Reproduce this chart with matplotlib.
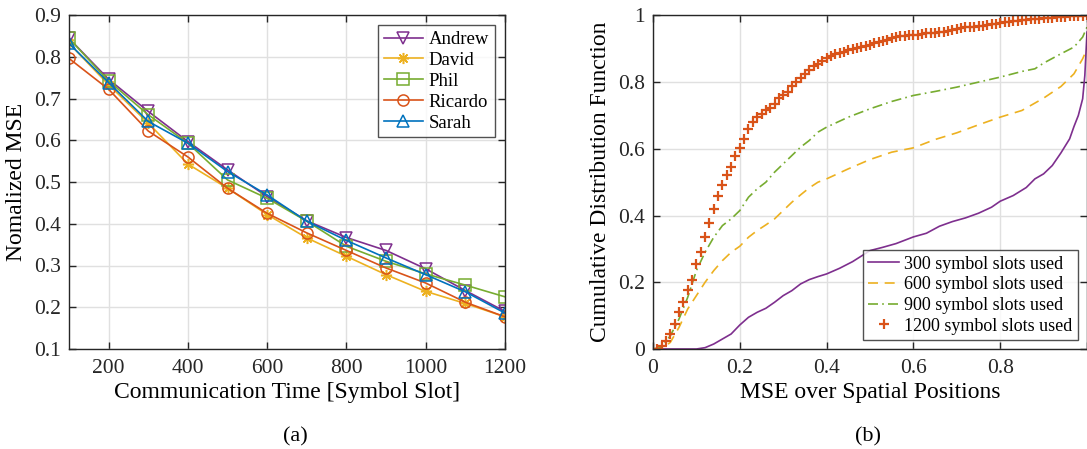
import numpy as np
import matplotlib
matplotlib.use("Agg")
import matplotlib.pyplot as plt

plt.rcParams['font.family'] = ['Liberation Serif', 'DejaVu Serif']
plt.rcParams['mathtext.fontset'] = 'stix'

# ---- panel (a) data ----
slots = [100, 200, 300, 400, 500, 600, 700, 800, 900, 1000, 1100, 1200]
andrew = [0.844, 0.746, 0.669, 0.597, 0.529, 0.465, 0.407, 0.367, 0.336, 0.292, 0.240, 0.190]
david = [0.832, 0.733, 0.641, 0.543, 0.485, 0.422, 0.366, 0.322, 0.278, 0.238, 0.209, 0.177]
phil = [0.844, 0.742, 0.661, 0.593, 0.505, 0.461, 0.406, 0.346, 0.310, 0.280, 0.253, 0.225]
ricardo = [0.796, 0.722, 0.622, 0.560, 0.485, 0.425, 0.378, 0.336, 0.294, 0.258, 0.212, 0.177]
sarah = [0.832, 0.738, 0.645, 0.593, 0.525, 0.469, 0.406, 0.360, 0.318, 0.278, 0.237, 0.186]
names = ["Andrew", "David", "Phil", "Ricardo", "Sarah"]

# ---- panel (b) data ----
x300 = [0, 0.05, 0.10, 0.12, 0.14, 0.16, 0.18, 0.20, 0.22, 0.24, 0.26, 0.28, 0.30, 0.32, 0.34,
        0.36, 0.38, 0.40, 0.43, 0.46, 0.50, 0.53, 0.56, 0.60, 0.63, 0.66, 0.69, 0.72, 0.75,
        0.78, 0.80, 0.83, 0.86, 0.88, 0.90, 0.92, 0.94, 0.96, 0.97, 0.98, 0.99, 0.995, 1.0]
cdf300 = [0, 0, 0, 0.004, 0.015, 0.03, 0.045, 0.072, 0.095, 0.11, 0.122, 0.14, 0.16, 0.175, 0.195,
          0.208, 0.217, 0.225, 0.242, 0.262, 0.295, 0.305, 0.316, 0.336, 0.347, 0.368, 0.382, 0.393, 0.407,
          0.425, 0.443, 0.46, 0.484, 0.51, 0.525, 0.55, 0.588, 0.63, 0.667, 0.70, 0.75, 0.82, 0.95]

x600 = [0, 0.02, 0.04, 0.06, 0.08, 0.10, 0.12, 0.14, 0.16, 0.18, 0.20, 0.22, 0.24, 0.26, 0.28,
        0.30, 0.32, 0.34, 0.36, 0.38, 0.40, 0.45, 0.50, 0.55, 0.60, 0.65, 0.70, 0.75, 0.80,
        0.85, 0.90, 0.94, 0.97, 0.99, 1.0]
cdf600 = [0, 0, 0.02, 0.065, 0.12, 0.16, 0.20, 0.235, 0.265, 0.29, 0.308, 0.335, 0.355, 0.372, 0.39,
          0.415, 0.44, 0.462, 0.483, 0.50, 0.51, 0.54, 0.568, 0.59, 0.603, 0.628, 0.648, 0.672, 0.695,
          0.715, 0.752, 0.787, 0.825, 0.87, 0.90]

x900 = [0, 0.02, 0.04, 0.06, 0.08, 0.10, 0.12, 0.14, 0.16, 0.18, 0.20, 0.22, 0.24, 0.26, 0.28,
        0.30, 0.32, 0.34, 0.36, 0.38, 0.40, 0.45, 0.50, 0.55, 0.60, 0.65, 0.70, 0.75, 0.80,
        0.85, 0.88, 0.90, 0.94, 0.97, 0.99, 1.0]
cdf900 = [0, 0.005, 0.04, 0.09, 0.155, 0.235, 0.29, 0.335, 0.37, 0.39, 0.415, 0.455, 0.48, 0.50, 0.53,
          0.555, 0.58, 0.605, 0.625, 0.65, 0.665, 0.695, 0.72, 0.742, 0.76, 0.772, 0.785, 0.80, 0.815,
          0.832, 0.84, 0.857, 0.885, 0.905, 0.935, 0.965]

x1200 = np.arange(0, 101) / 100
cdf1200 = [0, 0, 0.008, 0.025, 0.045, 0.074, 0.112, 0.141, 0.178, 0.208,
           0.254, 0.292, 0.336, 0.377, 0.42, 0.459, 0.493, 0.522, 0.546, 0.579,
           0.603, 0.63, 0.66, 0.681, 0.694, 0.704, 0.715, 0.723, 0.735, 0.751,
           0.761, 0.771, 0.787, 0.799, 0.812, 0.824, 0.837, 0.847, 0.855, 0.864,
           0.872, 0.878, 0.884, 0.888, 0.891, 0.895, 0.90, 0.902, 0.904, 0.908,
           0.912, 0.916, 0.92, 0.924, 0.927, 0.931, 0.934, 0.937, 0.939, 0.94,
           0.941, 0.942, 0.944, 0.946, 0.946, 0.947, 0.949, 0.951, 0.953, 0.955,
           0.959, 0.962, 0.965, 0.965, 0.966, 0.967, 0.969, 0.971, 0.973, 0.975,
           0.977, 0.979, 0.981, 0.982, 0.984, 0.986, 0.987, 0.988, 0.989, 0.99,
           0.991, 0.992, 0.993, 0.994, 0.995, 0.996, 0.997, 0.997, 0.998, 0.999, 1.0]
cdf_labels = ["300 symbol slots used", "600 symbol slots used",
              "900 symbol slots used", "1200 symbol slots used"]

# matlab default colours
purple = "#7E2F8E"
yellow = "#EDB120"
green = "#77AC30"
orange = "#D95319"
blue = "#0072BD"

W, H = 1087, 449
fig = plt.figure(figsize=(W / 100, H / 100), dpi=100)


def style_axes(ax):
    ax.grid(True, color="#e0e0e0", linewidth=1.0)
    ax.set_axisbelow(True)
    ax.tick_params(direction="in", top=True, right=True, labelsize=15.5,
                   length=5, width=1.0, colors="#262626", pad=6)
    ax.tick_params(axis="x", pad=7)
    for s in ax.spines.values():
        s.set_color("#262626")
        s.set_linewidth(1.0)


# ---- (a) ----
ax1 = fig.add_axes([69 / W, 1 - 349 / H, 436 / W, 334 / H])
series = [andrew, david, phil, ricardo, sarah]
cols = [purple, yellow, green, orange, blue]
marks = ["v", (8, 2, 0), "s", "o", "^"]
for vals, c, m, n in zip(series, cols, marks, names):
    ax1.plot(slots, vals, color=c, marker=m, markersize=8, markerfacecolor="none",
             markeredgewidth=1.1, linewidth=1.2, label=n)
ax1.set_xlim(100, 1200)
ax1.set_ylim(0.1, 0.9)
ax1.set_xticks([200, 400, 600, 800, 1000, 1200])
ax1.set_yticks(np.arange(1, 10) / 10)
ax1.set_yticklabels(["%.1f" % v for v in np.arange(1, 10) / 10])
style_axes(ax1)
ax1.set_xlabel("Communication Time [Symbol Slot]", fontsize=17, labelpad=3)
ax1.set_ylabel("Nomalized MSE", fontsize=17, labelpad=5)
leg1 = ax1.legend(loc="upper right", fontsize=13.5, frameon=True, fancybox=False,
                  edgecolor="#262626", borderpad=0.3, labelspacing=0.2,
                  handlelength=2.1, handletextpad=0.3, borderaxespad=0.55)
leg1.get_frame().set_linewidth(1.0)

# ---- (b) ----
ax2 = fig.add_axes([653 / W, 1 - 349 / H, 434 / W, 333.6 / H])
ax2.plot(x300, cdf300, color=purple, linewidth=1.2, label=cdf_labels[0])
ax2.plot(x600, cdf600, color=yellow, linewidth=1.2, linestyle=(0, (6, 4)), label=cdf_labels[1])
ax2.plot(x900, cdf900, color=green, linewidth=1.2, linestyle=(0, (6, 2.5, 1, 2.5)), label=cdf_labels[2])
ax2.plot(x1200, cdf1200, color=orange, linestyle="none", marker="+", markersize=7,
         markeredgewidth=1.6, label=cdf_labels[3])
ax2.set_xlim(0, 1)
ax2.set_ylim(0, 1)
ax2.set_xticks([0, 0.2, 0.4, 0.6, 0.8, 1])
ax2.set_xticklabels(["0", "0.2", "0.4", "0.6", "0.8", ""])
ax2.set_yticks([0, 0.2, 0.4, 0.6, 0.8, 1])
ax2.set_yticklabels(["0", "0.2", "0.4", "0.6", "0.8", "1"])
style_axes(ax2)
ax2.set_xlabel("MSE over Spatial Positions", fontsize=17, labelpad=3)
ax2.set_ylabel("Cumulative Distribution Function", fontsize=17, labelpad=5)
leg2 = ax2.legend(loc="lower right", fontsize=13, frameon=True, fancybox=False,
                  edgecolor="#262626", borderpad=0.3, labelspacing=0.2,
                  handlelength=1.7, handletextpad=0.3, borderaxespad=0.5)
leg2.get_frame().set_linewidth(1.0)

fig.text(295 / W, 1 - 437 / H, "(a)", fontsize=16, ha="center", va="center")
fig.text(868 / W, 1 - 437 / H, "(b)", fontsize=16, ha="center", va="center")

fig.savefig("out.png", dpi=100)
